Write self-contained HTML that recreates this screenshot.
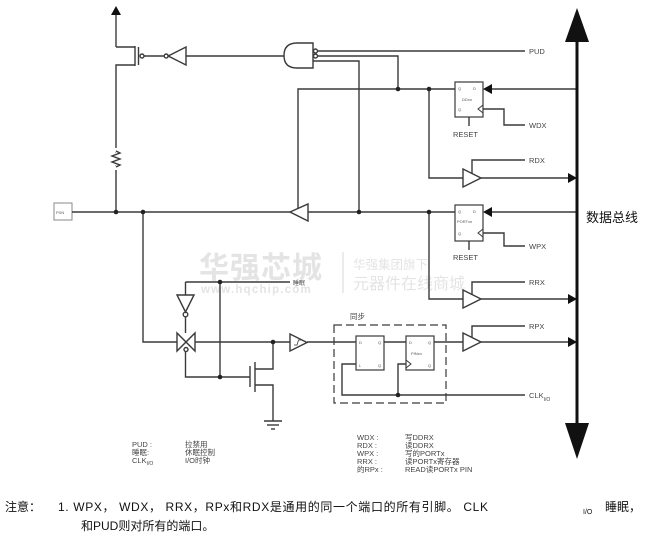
<!DOCTYPE html>
<html><head><meta charset="utf-8"><style>
html,body{margin:0;padding:0;background:#fff;}
svg{display:block;}
text{font-family:"Liberation Sans","Noto Sans CJK SC",sans-serif;}
</style></head><body>
<svg width="669" height="547" viewBox="0 0 669 547" xmlns="http://www.w3.org/2000/svg">
<!-- watermark -->
<g fill="#e4e4e4">
<text x="199" y="278" font-size="30" font-weight="bold" font-family="'Noto Sans CJK SC',sans-serif" letter-spacing="1">华强芯城</text>
<text x="201" y="293" font-size="11.5" font-weight="bold" letter-spacing="1.2">www.hqchip.com</text>
<text x="353" y="269" font-size="12.5" font-family="'Noto Sans CJK SC',sans-serif">华强集团旗下</text>
<text x="353" y="289" font-size="16" font-family="'Noto Sans CJK SC',sans-serif">元器件在线商城</text>
</g>
<line x1="343" y1="252" x2="343" y2="293" stroke="#e4e4e4" stroke-width="1.5"/>

<g stroke="#3a3a3a" stroke-width="1.4" fill="none">
<line x1="116" y1="15" x2="116" y2="47"/>
<path d="M116 47 H135 M135 46 V66 M135 65 H116 V212"/>
<line x1="138.5" y1="47" x2="138.5" y2="65"/>
<circle cx="142" cy="56" r="2"/>
<line x1="144" y1="56" x2="164" y2="56"/>
<circle cx="166.2" cy="56" r="2"/>
<path d="M168.2 56 L186 47 L186 65 Z"/>
<line x1="186" y1="56" x2="284" y2="56"/>
<path d="M313 43 L297 43 Q284 43 284 55.5 Q284 68 297 68 L313 68 Z"/>
<circle cx="315.5" cy="51" r="2"/>
<circle cx="315.5" cy="56" r="2"/>
<line x1="317.5" y1="51" x2="525" y2="51"/>
<path d="M317.5 56 H398 V89"/>
<path d="M313 61 H359 V212"/>
<path d="M116 148 L116 151 L120 153 L112 156 L120 159 L112 162 L120 165 L116 167 L116 170" stroke="#fff" stroke-width="3"/>
<path d="M116 151 L120 153 L112 156 L120 159 L112 162 L120 165 L116 167"/>
<rect x="54" y="203" width="18" height="17" stroke="#888" stroke-width="1"/>
<line x1="72" y1="212" x2="290" y2="212"/>
<path d="M290 212 L308 204 L308 221 Z"/>
<line x1="308" y1="212" x2="455" y2="212"/>
<path d="M298 208 V89 H455"/>
<rect x="455" y="82" width="28" height="35" stroke-width="1.2"/>
<path d="M483 105 L478 109 L483 113" stroke-width="1"/>
<path d="M483 109 H504 V125 H525"/>
<line x1="469" y1="117" x2="469" y2="126"/>
<line x1="577" y1="89" x2="492" y2="89"/>
<path d="M429 89 V178 H463"/>
<path d="M463 169 L481 178 L463 187 Z"/>
<line x1="481" y1="178" x2="568" y2="178"/>
<path d="M472 173.5 V160 H525"/>
<rect x="455" y="205" width="28" height="36" stroke-width="1.2"/>
<path d="M483 229 L478 233 L483 237" stroke-width="1"/>
<path d="M483 233 H504 V246 H525"/>
<line x1="469" y1="241" x2="469" y2="250"/>
<line x1="577" y1="212" x2="492" y2="212"/>
<path d="M429 212 V299 H463"/>
<path d="M463 290 L481 299 L463 308 Z"/>
<line x1="481" y1="299" x2="568" y2="299"/>
<path d="M472 294.5 V282 H525"/>
<path d="M143 212 V342 H177"/>
<path d="M177 333 L177 351 L195 333 L195 351 Z"/>
<circle cx="186" cy="349.5" r="2"/>
<path d="M185.5 282 H290"/>
<line x1="185.5" y1="282" x2="185.5" y2="295"/>
<path d="M177 295 L194 295 L185.5 312 Z"/>
<circle cx="185.5" cy="314.5" r="2.3"/>
<line x1="185.5" y1="317" x2="185.5" y2="333"/>
<path d="M185.5 351 V377 H250"/>
<line x1="220" y1="282" x2="220" y2="377"/>
<line x1="195" y1="342" x2="290" y2="342"/>
<line x1="250" y1="366" x2="250" y2="387"/>
<line x1="255" y1="362" x2="255" y2="392"/>
<path d="M255 369 H273 V342"/>
<path d="M255 385 H273 V421"/>
<line x1="264" y1="421" x2="282" y2="421"/>
<line x1="267" y1="425" x2="279" y2="425"/>
<line x1="271" y1="429" x2="275" y2="429"/>
<path d="M290 334 L307 342.5 L290 351 Z"/>
<path d="M294 345 L297 345 L298.5 340 L301 340" stroke-width="0.8"/>
<line x1="307" y1="342" x2="356" y2="342"/>
<rect x="334" y="325" width="112" height="78" stroke-dasharray="8 4" stroke-width="1.2"/>
<rect x="356" y="336" width="28" height="34" stroke-width="1.2"/>
<rect x="406" y="336" width="28" height="34" stroke-width="1.2"/>
<line x1="384" y1="342" x2="406" y2="342"/>
<path d="M406 360 L411 364 L406 368" stroke-width="1"/>
<path d="M356 364 H342 V395 H525"/>
<path d="M398 395 V364 H406"/>
<line x1="434" y1="342" x2="463" y2="342"/>
<path d="M463 333 L481 342 L463 351 Z"/>
<line x1="481" y1="342" x2="568" y2="342"/>
<path d="M472 337.5 V326 H525"/>
</g>

<g fill="#222">
<circle cx="116" cy="212" r="2.3"/>
<circle cx="143" cy="212" r="2.3"/>
<circle cx="359" cy="212" r="2.3"/>
<circle cx="429" cy="212" r="2.3"/>
<circle cx="398" cy="89" r="2.3"/>
<circle cx="429" cy="89" r="2.3"/>
<circle cx="220" cy="282" r="2.3"/>
<circle cx="220" cy="377" r="2.3"/>
<circle cx="273" cy="342" r="2.3"/>
<circle cx="398" cy="395" r="2.3"/>
</g>

<g fill="#111">
<polygon points="116,6 111,15 121,15"/>
<polygon points="483,89 492,84 492,94"/>
<polygon points="483,212 492,207 492,217"/>
<polygon points="577,178 568,173 568,183"/>
<polygon points="577,299 568,294 568,304"/>
<polygon points="577,342 568,337 568,347"/>
<polygon points="577,8 565,42 589,42"/>
<polygon points="577,459 565,423 589,423"/>
</g>
<line x1="577" y1="40" x2="577" y2="425" stroke="#111" stroke-width="3"/>

<g fill="#444" font-size="7.5">
<text x="529" y="54">PUD</text>
<text x="529" y="128">WDX</text>
<text x="529" y="163">RDX</text>
<text x="529" y="249">WPX</text>
<text x="529" y="285">RRX</text>
<text x="529" y="329">RPX</text>
<text x="529" y="398">CLK<tspan font-size="5" dy="3">I/O</tspan></text>
<text x="453" y="137">RESET</text>
<text x="453" y="260">RESET</text>
<text x="350" y="319" font-family="'Noto Sans CJK SC',sans-serif">同步</text>
<text x="293" y="285" font-size="6" font-family="'Noto Sans CJK SC',sans-serif">睡眠</text>
</g>
<g fill="#555" font-size="4">
<text x="56" y="214">PXN</text>
<text x="458" y="90">Q</text><text x="473" y="90">D</text>
<text x="462" y="101">DDxn</text>
<text x="458" y="111">Q</text>
<text x="458" y="213">Q</text><text x="473" y="213">D</text>
<text x="457" y="223">PORTxn</text>
<text x="458" y="235">Q</text>
<text x="359" y="344">D</text><text x="378" y="344">Q</text>
<text x="359" y="367">L</text><text x="378" y="367">Q</text>
<text x="409" y="344">D</text><text x="428" y="344">Q</text>
<text x="411" y="355">PINxn</text>
<text x="428" y="367">Q</text>
</g>
<text x="586" y="222" font-size="13" fill="#111" font-family="'Noto Sans CJK SC',sans-serif">数据总线</text>

<g fill="#444" font-size="7.5" font-family="'Liberation Sans','Noto Sans CJK SC',sans-serif">
<text x="132" y="447">PUD :</text>
<text x="132" y="455">睡眠:</text>
<text x="132" y="463">CLK<tspan font-size="5" dy="2">I/O</tspan></text>
<text x="185" y="447">拉禁用</text>
<text x="185" y="455">休眠控制</text>
<text x="185" y="463">I/O时钟</text>
<text x="357" y="440">WDX :</text>
<text x="357" y="448">RDX :</text>
<text x="357" y="456">WPX :</text>
<text x="357" y="464">RRX :</text>
<text x="357" y="472">的RPx :</text>
<text x="405" y="440">写DDRX</text>
<text x="405" y="448">读DDRX</text>
<text x="405" y="456">写的PORTx</text>
<text x="405" y="464">读PORTx寄存器</text>
<text x="405" y="472">READ读PORTx PIN</text>
</g>

<g fill="#111" font-size="12" font-family="'Liberation Sans','Noto Sans CJK SC',sans-serif">
<text x="5" y="511">注意：</text>
<text x="58" y="511" textLength="430" lengthAdjust="spacing">1. WPX， WDX， RRX，RPx和RDX是通用的同一个端口的所有引脚。 CLK</text>
<text x="583" y="514" font-size="7">I/O</text>
<text x="605" y="511">睡眠，</text>
<text x="81" y="530">和PUD则对所有的端口。</text>
</g>
</svg>
</body></html>
